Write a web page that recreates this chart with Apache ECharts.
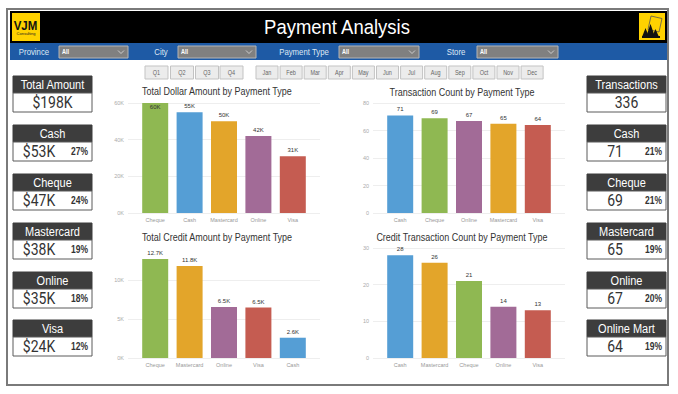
<!DOCTYPE html>
<html><head><meta charset="utf-8">
<script src="https://cdn.jsdelivr.net/npm/echarts@6/dist/echarts.min.js"></script>
<style>html,body{margin:0;padding:0;background:#fff;}#c{width:678px;height:394px;}</style>
</head><body><div id="c"></div>
<script>
// ---------- data ----------
const dollarCategories = ['Cheque', 'Cash', 'Mastercard', 'Online', 'Visa'];
const dollarValues = [60000, 55000, 50000, 42000, 31000];
const dollarTicks = ['0K', '20K', '40K', '60K'];

const countCategories = ['Cash', 'Cheque', 'Online', 'Mastercard', 'Visa'];
const countValues = [71, 69, 67, 65, 64];
const countTicks = ['0', '20', '40', '60', '80'];

const creditAmountCategories = ['Cheque', 'Mastercard', 'Online', 'Visa', 'Cash'];
const creditAmountValues = [12700, 11800, 6540, 6460, 2600];
const creditAmountTicks = ['0K', '5K', '10K'];

const creditCountCategories = ['Cash', 'Mastercard', 'Cheque', 'Online', 'Visa'];
const creditCountValues = [28, 26, 21, 14, 13];
const creditCountTicks = ['0', '10', '20', '30'];

const totalAmountLabel = 'Total Amount';
const totalAmount = '$198K';
const amountCards = ['Cash', 'Cheque', 'Mastercard', 'Online', 'Visa'];
const amountValues = ['$53K', '$47K', '$38K', '$35K', '$24K'];
const amountShares = ['27%', '24%', '19%', '18%', '12%'];

const totalTxnLabel = 'Transactions';
const totalTransactions = '336';
const txnCards = ['Cash', 'Cheque', 'Mastercard', 'Online', 'Online Mart'];
const txnValues = ['71', '69', '65', '67', '64'];
const txnShares = ['21%', '21%', '19%', '20%', '19%'];

const filterLabels = ['Province', 'City', 'Payment Type', 'Store'];
const filterValues = ['All', 'All', 'All', 'All'];
const quarters = ['Q1', 'Q2', 'Q3', 'Q4'];
const months = ['Jan', 'Feb', 'Mar', 'Apr', 'May', 'Jun', 'Jul', 'Aug', 'Sep', 'Oct', 'Nov', 'Dec'];
const pageTitle = 'Payment Analysis';

// ---------- styling ----------
const FONT = "'Liberation Sans', Arial, sans-serif";
const NUMFONT = "Roboto, 'Liberation Sans', sans-serif";
const typeColors = {
  Cheque: '#8FB852', Cash: '#559ED5', Mastercard: '#E3A52A', Online: '#A26B97', Visa: '#C55C51'
};

const grids = [], xAxes = [], yAxes = [], series = [], graphics = [];

function txt(x, y, text, size, color, o) {
  o = o || {};
  const al = o.align || 'center';
  return {
    type: 'text', x: x, y: y, scaleY: o.sy || 1.15, silent: true, z: 10,
    style: {
      text: text, fill: color, fontSize: size, fontFamily: o.family || FONT,
      fontWeight: o.weight || 'normal', align: al, textAlign: al,
      verticalAlign: 'middle', textVerticalAlign: 'middle'
    }
  };
}
function rect(x, y, w, h, fill, stroke, lw) {
  return { type: 'rect', silent: true, z: 5, shape: { x: x, y: y, width: w, height: h },
    style: { fill: fill, stroke: stroke || null, lineWidth: lw || 0 } };
}

function addChart(c) {
  const gi = grids.length;
  const height = c.zeroY - c.top;
  grids.push({ left: c.left, top: c.top, width: 192, height: height });
  grids.push({ left: c.left + 10, top: c.top, width: 172, height: height });
  xAxes.push({ gridIndex: gi, type: 'value', show: false, min: 0, max: 1 });
  xAxes.push({ gridIndex: gi + 1, type: 'category', data: c.cats,
    axisLine: { show: false }, axisTick: { show: false },
    axisLabel: { fontSize: 5.5, color: '#999', margin: 4, fontFamily: FONT, interval: 0 } });
  yAxes.push({ gridIndex: gi, type: 'value', min: 0, max: c.max, interval: c.interval,
    axisLine: { show: false }, axisTick: { show: false },
    axisLabel: { fontSize: 5.5, color: '#aaa', margin: 4, fontFamily: FONT,
      formatter: function (v, i) { const t = c.ticks[i]; return t === undefined ? '' : t; } },
    splitLine: { show: true, showMaxLine: c.showMax, lineStyle: { color: '#eeeeee', width: 1 } } });
  yAxes.push({ gridIndex: gi + 1, type: 'value', min: 0, max: c.max, show: false, splitLine: { show: false } });
  series.push({
    type: 'bar', xAxisIndex: gi + 1, yAxisIndex: gi + 1, barWidth: 26,
    data: c.vals.map(function (v, i) {
      const d = { value: v, itemStyle: { color: typeColors[c.cats[i]] } };
      if (v >= c.max) d.label = { position: 'insideTop', distance: 1 };
      return d;
    }),
    label: { show: true, position: 'top', distance: 3, fontSize: 6, color: '#333', fontFamily: FONT,
      formatter: function (p) { return c.fmt(p.value); } }
  });
  graphics.push(txt(c.left + 96 - 7, c.titleY, c.title, 9, '#333'));
}

addChart({ title: 'Total Dollar Amount by Payment Type', cats: dollarCategories, vals: dollarValues,
  ticks: dollarTicks, max: 60000, interval: 20000, left: 128, top: 103, zeroY: 213, titleY: 91, showMax: true,
  fmt: function (v) { return Math.round(v / 1000) + 'K'; } });
addChart({ title: 'Transaction Count by Payment Type', cats: countCategories, vals: countValues,
  ticks: countTicks, max: 80, interval: 20, left: 373, top: 103, zeroY: 213, titleY: 92, showMax: true,
  fmt: function (v) { return String(v); } });
addChart({ title: 'Total Credit Amount by Payment Type', cats: creditAmountCategories, vals: creditAmountValues,
  ticks: creditAmountTicks, max: 13000, interval: 5000, left: 128, top: 256.6, zeroY: 358, titleY: 237, showMax: false,
  fmt: function (v) { return (v / 1000).toFixed(1) + 'K'; } });
addChart({ title: 'Credit Transaction Count by Payment Type', cats: creditCountCategories, vals: creditCountValues,
  ticks: creditCountTicks, max: 30, interval: 10, left: 373, top: 248, zeroY: 358, titleY: 237, showMax: true,
  fmt: function (v) { return String(v); } });

// ---------- frame / header ----------
graphics.push({ type: 'rect', silent: true, z: 1, shape: { x: 7, y: 9, width: 661, height: 376 },
  style: { fill: 'none', stroke: '#7a7a7a', lineWidth: 2 } });
graphics.push(rect(10, 11, 657, 32, '#000'));
graphics.push(rect(10, 43, 657, 17, '#1E5AA5'));
graphics.push(txt(337, 27, pageTitle, 18.5, '#fff', { sy: 1.13 }));

// left logo
graphics.push(rect(12, 13, 28, 28, '#FFD200'));
graphics.push(txt(25.5, 25, 'VJM', 11.5, '#111', { weight: 'bold', sy: 1.05 }));
graphics.push(txt(26, 33.5, 'Consulting', 4, '#222', { sy: 1 }));
// right logo
graphics.push(rect(639, 13, 26, 27, '#FFD200'));
graphics.push({ type: 'polygon', silent: true, z: 11, shape: { points: [[651, 16], [662, 18.5], [659, 32], [648, 29.5]] },
  style: { fill: 'none', stroke: '#555', lineWidth: 0.8 } });
[[[642, 37], [645.5, 28], [649, 37]], [[646, 37], [650.5, 24], [655, 37]], [[652, 37], [655.5, 29], [659, 37]]].forEach(function (p) {
  graphics.push({ type: 'polygon', silent: true, z: 12, shape: { points: p }, style: { fill: '#111' } });
});
graphics.push(rect(642, 36, 18, 2, '#111'));

// filter bar
const filterLabelX = [34, 161, 304, 456];
const dropdowns = [[59, 128], [178, 256], [339, 419], [477, 558]];
filterLabels.forEach(function (l, i) {
  graphics.push(txt(filterLabelX[i], 52, l, 7.8, '#dfe8f4'));
  const d = dropdowns[i];
  graphics.push(rect(d[0], 46, d[1] - d[0], 12, '#808080', '#b5b5b5', 1));
  graphics.push(txt(d[0] + 3, 52, filterValues[i], 5.5, '#fff', { align: 'left', weight: 'bold' }));
  graphics.push({ type: 'polyline', silent: true, z: 12,
    shape: { points: [[d[1] - 10, 50.5], [d[1] - 7, 53.5], [d[1] - 4, 50.5]] },
    style: { fill: 'none', stroke: '#e0e0e0', lineWidth: 0.8 } });
});

// slicer buttons
const qStarts = [145, 170.5, 195.5, 220];
quarters.forEach(function (q, i) {
  graphics.push(rect(qStarts[i], 66, 23, 13, '#ececec', '#c3c3c3', 1));
  graphics.push(txt(qStarts[i] + 11.5, 72.5, q, 5.5, '#666'));
});
months.forEach(function (m, i) {
  const x = 256 + i * 24.1;
  graphics.push(rect(x, 66, 22, 13, '#ececec', '#c3c3c3', 1));
  graphics.push(txt(x + 11, 72.5, m, 5.5, '#666'));
});

// KPI cards
const cardTops = [76, 125, 174, 223, 272, 320];
function card(x, top, title, value, share, valueDx) {
  graphics.push(rect(x, top, 79, 17, '#3d3d3d', '#3d3d3d', 1));
  graphics.push(rect(x, top + 17, 79, 19, '#fff', '#5a5a5a', 1));
  graphics.push(txt(x + 39.5, top + 8.5, title, 11, '#fff'));
  if (share === null) {
    graphics.push(txt(x + 39.5, top + 26.5, value, 14, '#333', { sy: 1.22, family: NUMFONT }));
  } else {
    graphics.push(txt(x + valueDx, top + 26.5, value, 14, '#333', { sy: 1.22, family: NUMFONT }));
    graphics.push(txt(x + 75, top + 27, share, 8.5, '#333', { align: 'right', weight: 'bold', sy: 1.2 }));
  }
}
card(13, cardTops[0], totalAmountLabel, totalAmount, null);
amountCards.forEach(function (n, i) { card(13, cardTops[i + 1], n, amountValues[i], amountShares[i], 26); });
card(587, cardTops[0], totalTxnLabel, totalTransactions, null);
txnCards.forEach(function (n, i) { card(587, cardTops[i + 1], n, txnValues[i], txnShares[i], 28); });

const chart = echarts.init(document.getElementById('c'), null, { renderer: 'svg' });
chart.setOption({
  animation: false,
  backgroundColor: '#fff',
  grid: grids, xAxis: xAxes, yAxis: yAxes, series: series,
  graphic: { elements: graphics }
});
</script></body></html>
